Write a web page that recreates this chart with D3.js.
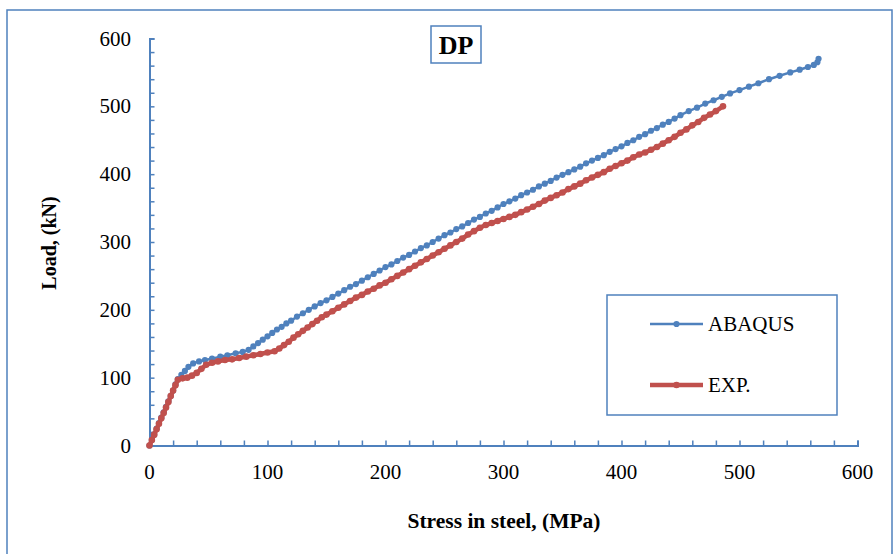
<!DOCTYPE html>
<html>
<head>
<meta charset="utf-8">
<script src="https://cdn.jsdelivr.net/npm/d3@7"></script>
<style>
  html, body { margin: 0; padding: 0; background: #fff; }
  svg { display: block; font-family: "Liberation Serif", "Times New Roman", serif; }
</style>
</head>
<body>
<svg id="chart" width="894" height="554"></svg>
<script>
"use strict";

// Load–stress readings
var abaqus = [
    [0, 0], [2, 8], [4, 16], [6, 25], [8, 33], [10, 41], [12, 49], [14, 57], [16, 65], [18, 73],
    [20, 81], [22, 90], [24, 98], [27, 104], [30, 110], [33, 116], [37, 121], [42, 124], [47, 126],
    [53, 128], [60, 131], [66, 133], [73, 136], [79, 138], [84, 141], [88, 146], [92, 151], [96, 156],
    [100, 161], [104, 166], [108, 171], [112, 175], [116, 180], [120, 184], [125, 190], [130, 195],
    [135, 200], [140, 205], [145, 210], [150, 214], [155, 219], [160, 224], [165, 229], [170, 234],
    [175, 238], [180, 243], [185, 248], [190, 253], [195, 258], [200, 263], [205, 267], [210, 272],
    [215, 277], [220, 281], [225, 286], [230, 291], [235, 295], [240, 300], [245, 305], [250, 310],
    [255, 314], [260, 319], [265, 323], [270, 328], [275, 333], [280, 337], [285, 342], [290, 346],
    [295, 351], [300, 356], [305, 360], [310, 364], [315, 369], [320, 373], [325, 377], [330, 382],
    [335, 386], [340, 390], [345, 395], [350, 399], [355, 403], [360, 407], [365, 411], [370, 416],
    [375, 420], [380, 424], [385, 428], [390, 433], [395, 437], [400, 441], [405, 446], [410, 450],
    [415, 455], [420, 459], [425, 464], [430, 468], [435, 473], [440, 477], [445, 482], [450, 487],
    [457, 493], [464, 498], [471, 504], [478, 509], [485, 514], [492, 519], [500, 524], [508, 529],
    [516, 534], [525, 540], [534, 545], [543, 550], [551, 554], [558, 558], [563, 561], [566, 565],
    [567, 570]
];

var eksperiment = [
    [0, 0], [2, 8], [4, 16], [6, 24], [8, 32], [10, 40], [12, 48], [14, 56], [16, 64], [18, 73],
    [20, 81], [22, 89], [24, 97], [28, 99], [32, 100], [36, 103], [40, 107], [44, 113], [48, 119],
    [53, 122], [58, 124], [64, 126], [70, 127], [76, 129], [82, 131], [88, 133], [94, 135], [100, 137],
    [106, 139], [110, 143], [114, 148], [118, 153], [122, 159], [126, 164], [130, 169], [134, 174],
    [138, 179], [142, 184], [146, 189], [150, 193], [155, 198], [160, 203], [165, 208], [170, 213],
    [175, 218], [180, 222], [185, 227], [190, 231], [195, 236], [200, 240], [205, 245], [210, 250],
    [215, 255], [220, 260], [225, 265], [230, 270], [235, 275], [240, 280], [245, 285], [250, 290],
    [255, 295], [260, 300], [265, 305], [270, 311], [275, 316], [280, 321], [285, 325], [290, 328],
    [295, 331], [300, 334], [305, 337], [310, 340], [315, 344], [320, 348], [325, 352], [330, 356],
    [335, 361], [340, 365], [345, 369], [350, 373], [355, 378], [360, 382], [365, 386], [370, 391],
    [375, 395], [380, 399], [385, 403], [390, 408], [395, 412], [400, 416], [405, 420], [410, 425],
    [415, 429], [420, 432], [425, 436], [430, 440], [435, 445], [440, 450], [445, 455], [450, 461],
    [455, 466], [460, 472], [465, 477], [470, 483], [475, 488], [480, 493], [486, 500]
];

var reeksNamen = ["ABAQUS", "EXP."];
var xTicks = [0, 100, 200, 300, 400, 500, 600];
var yTicks = [0, 100, 200, 300, 400, 500, 600];

var blauw = "#4F81BD";
var rood = "#C0504D";

var svg = d3.select("#chart");

// buitenrand
svg.append("rect")
    .attr("x", 7).attr("y", 10).attr("width", 885).attr("height", 560)
    .attr("fill", "none").attr("stroke", blauw).attr("stroke-width", 1.5);

var x = d3.scaleLinear().domain([0, 600]).range([149.5, 857.5]);
var y = d3.scaleLinear().domain([0, 600]).range([445.5, 38.5]);

// assen met ticks naar binnen, kleine ticks om de 20
var xAs = svg.append("g").attr("transform", "translate(0," + y(0) + ")")
    .call(d3.axisBottom(x).tickValues(d3.range(0, 601, 20)).tickSize(-5).tickFormat(""));
var yAs = svg.append("g").attr("transform", "translate(" + x(0) + ",0)")
    .call(d3.axisLeft(y).tickValues(d3.range(0, 601, 20)).tickSize(-5).tickFormat(""));
[xAs, yAs].forEach(function (as) {
    as.select(".domain").attr("stroke", blauw).attr("stroke-width", 2);
    as.selectAll(".tick line").attr("stroke", blauw).attr("stroke-width", 1.5);
});

svg.append("g").selectAll("text").data(xTicks).enter().append("text")
    .attr("x", function (d) { return x(d); })
    .attr("y", 479)
    .attr("text-anchor", "middle")
    .style("font-size", "21px")
    .text(function (d) { return d; });

svg.append("g").selectAll("text").data(yTicks).enter().append("text")
    .attr("x", 131)
    .attr("y", function (d) { return y(d) + 7; })
    .attr("text-anchor", "end")
    .style("font-size", "21px")
    .text(function (d) { return d; });

// astitels
svg.append("text")
    .attr("x", 504).attr("y", 528)
    .attr("text-anchor", "middle")
    .style("font-size", "21.5px").style("font-weight", "bold")
    .text("Stress in steel, (MPa)");

svg.append("text")
    .attr("transform", "translate(56,243) rotate(-90)")
    .attr("text-anchor", "middle")
    .style("font-size", "20px").style("font-weight", "bold")
    .text("Load, (kN)");

// titelvak
svg.append("rect")
    .attr("x", 431).attr("y", 26).attr("width", 50).attr("height", 37)
    .attr("fill", "#fff").attr("stroke", blauw).attr("stroke-width", 1.5);
svg.append("text")
    .attr("x", 456).attr("y", 54)
    .attr("text-anchor", "middle")
    .style("font-size", "26px").style("font-weight", "bold")
    .text("DP");

// reeksen tekenen
var lijn = d3.line().x(function (d) { return x(d[0]); }).y(function (d) { return y(d[1]); });
var reeksen = [
    { naam: reeksNamen[0], data: abaqus, kleur: blauw, dikte: 2.5, r: 3.1 },
    { naam: reeksNamen[1], data: eksperiment, kleur: rood, dikte: 4.5, r: 3.3 }
];

// eerst ABAQUS, daarna EXP. bovenop
reeksen.forEach(function (s) {
    var g = svg.append("g");
    g.append("path")
        .attr("d", lijn(s.data))
        .attr("fill", "none")
        .attr("stroke", s.kleur)
        .attr("stroke-width", s.dikte)
        .attr("stroke-linejoin", "round");
    g.selectAll("circle").data(s.data).enter().append("circle")
        .attr("cx", function (d) { return x(d[0]); })
        .attr("cy", function (d) { return y(d[1]); })
        .attr("r", s.r)
        .attr("fill", s.kleur);
});

// legenda
var legenda = svg.append("g");
legenda.append("rect")
    .attr("x", 607).attr("y", 295).attr("width", 230).attr("height", 120)
    .attr("fill", "#fff").attr("stroke", blauw).attr("stroke-width", 1.5);
reeksen.forEach(function (s, i) {
    var ly = 324 + i * 61;
    legenda.append("line")
        .attr("x1", 650).attr("x2", 703).attr("y1", ly).attr("y2", ly)
        .attr("stroke", s.kleur).attr("stroke-width", s.dikte);
    legenda.append("circle")
        .attr("cx", 676.5).attr("cy", ly).attr("r", s.r).attr("fill", s.kleur);
    legenda.append("text")
        .attr("x", 708).attr("y", ly + 7)
        .style("font-size", "21px")
        .text(s.naam);
});
</script>
</body>
</html>
